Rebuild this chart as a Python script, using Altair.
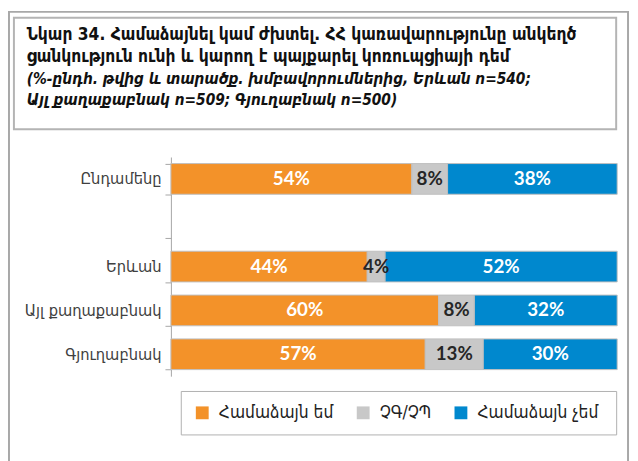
import altair as alt
import pandas as pd

# ---- data ----
title_lines = [
    "Նկար 34. Համաձայնել կամ ժխտել. ՀՀ կառավարությունը անկեղծ",
    "ցանկություն ունի և կարող է պայքարել կոռուպցիայի դեմ",
]
subtitle_lines = [
    "(%-ընդհ. թվից և տարածք. խմբավորումներից, Երևան n=540;",
    "Այլ քաղաքաբնակ n=509; Գյուղաբնակ n=500)",
]
categories = ["Ընդամենը", " ", "Երևան", "Այլ քաղաքաբնակ", "Գյուղաբնակ"]
rows = ["Ընդամենը", "Երևան", "Այլ քաղաքաբնակ", "Գյուղաբնակ"]
groups = ["Համաձայն եմ", "ՉԳ/ՉՊ", "Համաձայն  չեմ"]
agree = [54, 44, 60, 57]
dk = [8, 4, 8, 13]
disagree = [38, 52, 32, 30]
colors = ["#F39229", "#C8C8C8", "#0088CE"]

records = []
for i, r in enumerate(rows):
    for j, (g, vals) in enumerate(zip(groups, [agree, dk, disagree])):
        records.append({"cat": r, "group": g, "value": vals[i], "ord": j})
df = pd.DataFrame(records)

ARM = "DejaVu Sans Condensed, DejaVu Sans, Noto Sans, sans-serif"
NUM = "Lato, Open Sans, sans-serif"

y_enc = alt.Y(
    "cat:N",
    scale=alt.Scale(domain=categories, paddingInner=0.3, paddingOuter=0.15),
    axis=alt.Axis(
        title=None, tickBand="extent", tickSize=6, labelPadding=4,
        domainColor="#A6A6A6", tickColor="#A6A6A6", labelColor="#404040",
        labelFont=ARM, labelFontSize=16.5, labelLimit=200,
    ),
)
x_enc = alt.X("value:Q", stack="zero", scale=alt.Scale(domain=[0, 100]), axis=None)

bars = alt.Chart(df).mark_bar(stroke="#BFBFBF", strokeWidth=1).encode(
    y=y_enc,
    x=x_enc,
    color=alt.Color(
        "group:N",
        scale=alt.Scale(domain=groups, range=colors),
        sort=groups,
        legend=alt.Legend(
            title=None, orient="none", legendX=10, legendY=237,
            direction="horizontal", strokeColor="#B0B0B0", padding=13,
            symbolType="square", symbolSize=169, symbolStrokeWidth=0,
            labelFont=ARM, labelFontSize=17.5, labelColor="#222222",
            labelOffset=8, columnPadding=21, labelLimit=250,
        ),
    ),
    order=alt.Order("ord:Q"),
)

labels = (
    alt.Chart(df)
    .transform_stack(stack="value", groupby=["cat"], as_=["x0", "x1"],
                     sort=[alt.SortField("ord")])
    .transform_calculate(mid="(datum.x0 + datum.x1) / 2",
                         label="datum.value + '%'")
    .mark_text(font=NUM, fontSize=19, fontWeight="bold")
    .encode(
        y=alt.Y("cat:N", scale=alt.Scale(domain=categories)),
        x=alt.X("mid:Q"),
        text="label:N",
        color=alt.condition(alt.datum.group == groups[1],
                            alt.value("#262626"), alt.value("white")),
    )
)

one = pd.DataFrame({"k": [0]})
frame = alt.Chart(one).mark_rect(fill=None, stroke="#A8A8A8", strokeWidth=2).encode(
    x=alt.value(-164), x2=alt.value(463), y=alt.value(-147), y2=alt.value(320)
)
title_box = alt.Chart(one).mark_rect(fill="white", stroke="#B4B4B4", strokeWidth=2).encode(
    x=alt.value(-159), x2=alt.value(451), y=alt.value(-141), y2=alt.value(-28)
)

text_layers = []
line_specs = [
    (title_lines[0], -124, "normal", 17.5),
    (title_lines[1], -101, "normal", 17.5),
    (subtitle_lines[0], -79, "italic", 15.5),
    (subtitle_lines[1], -58, "italic", 15.5),
]
for txt, yy, style, fs in line_specs:
    text_layers.append(
        alt.Chart(pd.DataFrame({"t": [txt]})).mark_text(
            align="left", baseline="middle", font=ARM, fontSize=fs,
            fontWeight="bold", fontStyle=style, color="#111111",
        ).encode(x=alt.value(-146), y=alt.value(yy), text="t:N")
    )

chart = alt.layer(frame, title_box, *text_layers, bars, labels).properties(
    width=452, height=222, autosize="none",
    padding={"left": 165, "top": 148, "right": 13, "bottom": 83},
).configure_view(stroke=None)

chart.save("out.html", embed_options={"renderer": "svg", "actions": False})
